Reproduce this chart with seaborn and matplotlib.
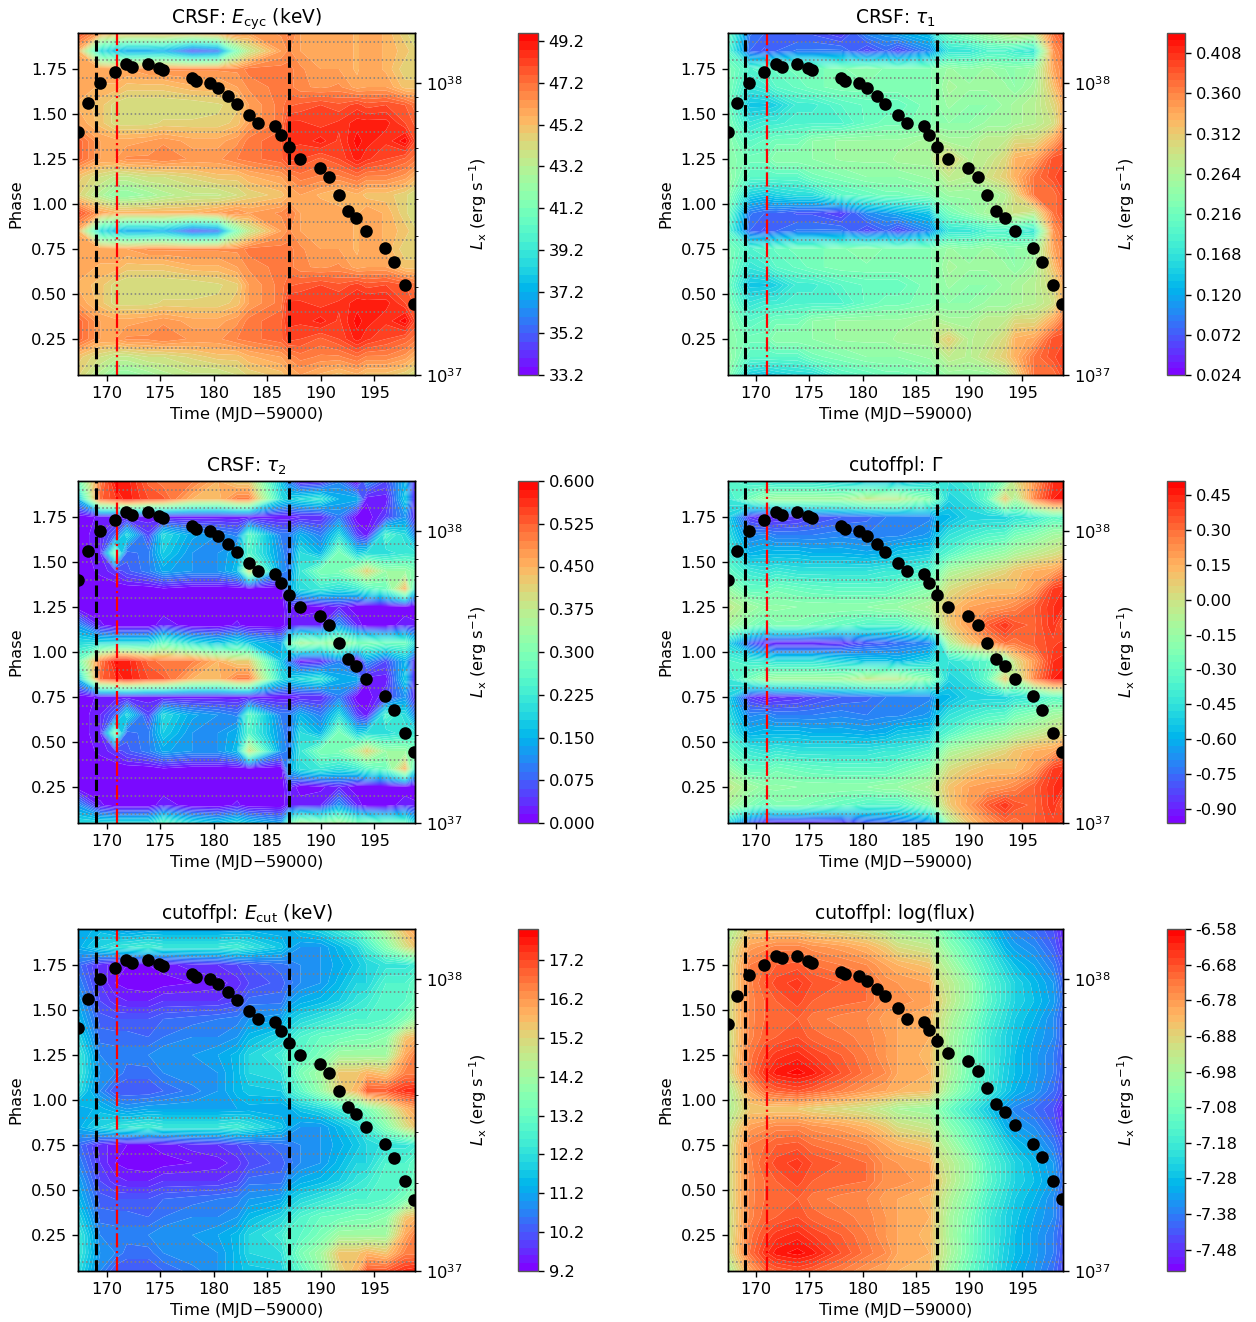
import numpy as np
import seaborn as sns
import matplotlib
matplotlib.use('Agg')
import matplotlib.pyplot as plt
from matplotlib.ticker import LogLocator, NullFormatter

# observation times and luminosity of the outburst
obs_time = [167.33, 168.26, 169.37, 170.74, 171.85, 172.41, 173.85, 174.89, 175.30, 177.96, 178.37, 179.67,
            180.41, 181.33, 182.15, 183.30, 184.15, 185.74, 186.26, 187.00, 188.04, 189.93, 190.81, 191.67,
            192.52, 193.33, 194.26, 196.04, 196.81, 197.89, 198.74]
log_lx = [37.833, 37.932, 38.001, 38.039, 38.065, 38.057, 38.066, 38.053, 38.045, 38.017, 38.008, 37.999,
          37.984, 37.957, 37.929, 37.892, 37.862, 37.852, 37.822, 37.782, 37.740, 37.711, 37.680, 37.618,
          37.562, 37.538, 37.494, 37.435, 37.388, 37.309, 37.245]
log_lx_flux = [37.846, 37.943, 38.014, 38.050, 38.078, 38.071, 38.078, 38.064, 38.056, 38.025, 38.017, 38.010,
               37.993, 37.967, 37.941, 37.902, 37.865, 37.853, 37.827, 37.789, 37.747, 37.719, 37.686, 37.627,
               37.571, 37.545, 37.502, 37.435, 37.390, 37.309, 37.246]

# grid of the phase-resolved maps
grid_time = [167.33, 169.4, 170.8, 171.9, 173.9, 175.3, 178.0, 180.4, 182.2, 183.3,
             186.3, 187.0, 188.1, 190.0, 191.7, 193.4, 194.3, 196.1, 197.9, 198.81]
phase_bins = [0.05, 0.15, 0.25, 0.35, 0.45, 0.55, 0.65, 0.75, 0.85, 0.95]

ecyc = [
    [44.5, 43, 42, 42, 42.5, 43, 43.5, 43.5, 44, 44.5, 45, 45.5, 46, 45.5, 45, 45.5, 45, 45, 44.5, 44],
    [45, 44, 43.5, 43.5, 44, 44, 44.5, 45, 45, 45.5, 46, 46.5, 47, 46.7, 46.7, 47.2, 46.7, 46.7, 46.2, 45.5],
    [47.5, 46, 46, 46.5, 46.5, 46.8, 46.3, 46.3, 46.8, 47, 47.5, 48.2, 48, 47.5, 48, 49, 48.5, 48, 47.5, 47],
    [47.5, 46, 45.8, 45.8, 46, 46.3, 45.8, 45.8, 46.3, 47, 47.5, 48.5, 48.5, 49, 48.3, 49.4, 49, 48.5, 49.5, 48],
    [46, 45, 44.2, 44.2, 44.2, 44.5, 44.5, 44.5, 45, 46, 47, 48.5, 48.5, 48.2, 48.5, 49, 49, 49, 48, 47.5],
    [45.5, 45, 44.2, 44, 44, 44, 44, 44.3, 44.7, 46, 47, 47.5, 47.7, 48, 47.7, 48.2, 47.8, 48, 47.6, 47],
    [46, 45.5, 45.5, 45, 45, 45, 45.5, 45.5, 46, 46.5, 47, 47, 46.5, 46.3, 46.5, 45.8, 46, 46, 45, 45],
    [46, 46, 46, 46, 46.5, 46.5, 46.5, 46.5, 46.5, 47, 47, 47, 46.5, 46, 46, 45.5, 46, 45.5, 44.5, 44.5],
    [45.5, 38.5, 37.5, 36.8, 36.8, 37, 34.8, 35.5, 41.5, 43.5, 46, 46.5, 46, 46, 46, 45.5, 46, 45.5, 45, 44.5],
    [48, 46, 45.5, 45.5, 45.5, 45.5, 45.5, 46, 46.5, 46, 46.5, 47, 46, 46, 46, 45.5, 46, 45.5, 44.5, 44],
]
tau1 = [
    [0.24, 0.15, 0.14, 0.15, 0.16, 0.16, 0.2, 0.21, 0.22, 0.22, 0.23, 0.24, 0.25, 0.25, 0.25, 0.27, 0.30, 0.37, 0.37, 0.39],
    [0.25, 0.2, 0.2, 0.2, 0.2, 0.22, 0.23, 0.24, 0.24, 0.24, 0.25, 0.26, 0.28, 0.27, 0.29, 0.31, 0.33, 0.37, 0.39, 0.40],
    [0.24, 0.22, 0.22, 0.24, 0.24, 0.24, 0.25, 0.25, 0.25, 0.26, 0.26, 0.29, 0.31, 0.27, 0.28, 0.30, 0.33, 0.34, 0.39, 0.39],
    [0.24, 0.2, 0.21, 0.22, 0.22, 0.24, 0.25, 0.25, 0.25, 0.25, 0.26, 0.27, 0.26, 0.26, 0.28, 0.28, 0.30, 0.30, 0.34, 0.37],
    [0.23, 0.17, 0.18, 0.18, 0.19, 0.19, 0.19, 0.21, 0.22, 0.22, 0.23, 0.24, 0.24, 0.24, 0.25, 0.25, 0.26, 0.27, 0.29, 0.33],
    [0.22, 0.14, 0.14, 0.15, 0.18, 0.18, 0.2, 0.21, 0.21, 0.21, 0.23, 0.24, 0.25, 0.24, 0.24, 0.25, 0.26, 0.27, 0.3, 0.33],
    [0.23, 0.17, 0.18, 0.2, 0.21, 0.22, 0.23, 0.23, 0.23, 0.23, 0.23, 0.24, 0.26, 0.25, 0.25, 0.25, 0.24, 0.26, 0.32, 0.36],
    [0.23, 0.19, 0.2, 0.21, 0.22, 0.22, 0.23, 0.24, 0.23, 0.23, 0.23, 0.24, 0.25, 0.24, 0.25, 0.24, 0.24, 0.25, 0.34, 0.36],
    [0.2, 0.08, 0.07, 0.08, 0.09, 0.09, 0.09, 0.06, 0.08, 0.06, 0.1, 0.13, 0.17, 0.17, 0.19, 0.19, 0.18, 0.17, 0.35, 0.37],
    [0.22, 0.09, 0.08, 0.08, 0.07, 0.07, 0.055, 0.1, 0.11, 0.12, 0.14, 0.19, 0.22, 0.24, 0.26, 0.28, 0.29, 0.28, 0.37, 0.39],
]
tau2 = [
    [0.2, 0.2, 0.2, 0.2, 0.2, 0.27, 0.2, 0.17, 0.2, 0.17, 0.13, 0.28, 0.35, 0.32, 0.35, 0.3, 0.3, 0.28, 0.28, 0.2],
    [0.12, 0.02, 0, 0, 0, 0.03, 0, 0, 0.02, 0, 0, 0.03, 0.03, 0.03, 0.12, 0.03, 0, 0, 0.03, 0.02],
    [0, 0, 0, 0, 0, 0, 0, 0, 0, 0, 0, 0.04, 0, 0.01, 0.03, 0, 0, 0, 0, 0],
    [0, 0, 0, 0, 0, 0.01, 0, 0, 0, 0, 0, 0.14, 0.2, 0.22, 0.2, 0.22, 0.25, 0.28, 0.45, 0.22],
    [0, 0.02, 0.04, 0.07, 0.1, 0.14, 0.12, 0.12, 0.16, 0.4, 0.12, 0.1, 0.22, 0.3, 0.3, 0.36, 0.42, 0.33, 0.33, 0.3],
    [0, 0.03, 0.3, 0.08, 0.1, 0.18, 0.12, 0.12, 0.15, 0.25, 0.12, 0.08, 0.2, 0.15, 0.3, 0.18, 0.2, 0.2, 0.22, 0.22],
    [0, 0.03, 0.08, 0.2, 0.05, 0.2, 0.14, 0.12, 0.1, 0.27, 0.1, 0.1, 0.15, 0.1, 0.2, 0.05, 0.02, 0.25, 0.2, 0.1],
    [0, 0.02, 0.02, 0.02, 0.02, 0.02, 0.02, 0.02, 0.02, 0.02, 0.02, 0.02, 0.03, 0.03, 0.1, 0, 0, 0.05, 0.12, 0.03],
    [0.15, 0.52, 0.55, 0.58, 0.54, 0.53, 0.45, 0.44, 0.5, 0.5, 0.2, 0.18, 0.2, 0.22, 0.15, 0.15, 0.02, 0.02, 0.18, 0.03],
    [0.28, 0.5, 0.58, 0.58, 0.52, 0.5, 0.5, 0.45, 0.42, 0.42, 0.17, 0.1, 0.02, 0.03, 0.1, 0, 0.12, 0.06, 0.15, 0.03],
]
gamma = [
    [-0.5, -0.78, -0.88, -0.9, -0.9, -0.9, -0.88, -0.8, -0.78, -0.75, -0.7, -0.55, -0.1, 0.1, 0.2, 0.3, 0.28, 0.33, 0.38, 0.4],
    [-0.1, -0.22, -0.28, -0.22, -0.22, -0.25, -0.3, -0.35, -0.35, -0.35, -0.2, -0.08, 0.08, 0.2, 0.33, 0.42, 0.35, 0.32, 0.42, 0.33],
    [-0.03, -0.12, -0.17, -0.17, -0.18, -0.18, -0.18, -0.18, -0.15, -0.15, -0.08, 0.0, 0.1, 0.18, 0.2, 0.22, 0.25, 0.33, 0.42, 0.42],
    [-0.15, -0.3, -0.3, -0.25, -0.28, -0.3, -0.32, -0.32, -0.32, -0.28, -0.2, -0.1, 0.02, 0.08, 0.12, 0.12, 0.12, 0.2, 0.4, 0.42],
    [-0.3, -0.42, -0.45, -0.42, -0.45, -0.45, -0.45, -0.45, -0.42, -0.42, -0.35, -0.25, -0.1, -0.05, 0.0, 0.05, 0.1, 0.15, 0.18, 0.25],
    [-0.4, -0.6, -0.58, -0.58, -0.58, -0.6, -0.6, -0.62, -0.6, -0.55, -0.52, -0.4, -0.35, -0.25, -0.2, -0.15, -0.1, -0.05, 0.0, 0.03],
    [-0.45, -0.7, -0.68, -0.72, -0.72, -0.72, -0.7, -0.72, -0.7, -0.7, -0.65, -0.55, -0.45, -0.4, -0.35, -0.33, -0.25, -0.2, -0.12, -0.1],
    [-0.5, -0.85, -0.92, -0.88, -0.86, -0.82, -0.78, -0.76, -0.72, -0.72, -0.7, -0.6, -0.58, -0.5, -0.5, -0.5, -0.45, -0.42, -0.32, -0.35],
    [-0.42, -0.25, -0.15, -0.12, -0.12, -0.12, -0.12, -0.03, -0.05, -0.05, -0.2, -0.3, -0.5, -0.45, -0.3, 0.1, -0.1, 0.25, 0.45, 0.48],
    [-0.35, -0.4, -0.42, -0.45, -0.45, -0.45, -0.5, -0.55, -0.55, -0.58, -0.5, -0.42, -0.45, -0.4, -0.33, -0.2, 0.02, 0.2, 0.42, 0.43],
]
ecut = [
    [12.2, 10.8, 10.2, 10.2, 10.2, 10.4, 10.7, 11, 11.5, 11.7, 11.8, 12.5, 13, 14, 15.2, 15.8, 17, 17, 17.5, 17.6],
    [12.5, 11, 10.8, 10.5, 10.5, 10.8, 11, 11, 11.5, 12, 12.2, 12.8, 13.5, 14.2, 15.5, 15.5, 15.8, 15.5, 16.5, 16.5],
    [12.5, 10.8, 10.7, 10.7, 10.8, 11, 11, 11.2, 11.5, 12, 12.5, 13, 13, 13.5, 14.2, 14.2, 14.2, 14.2, 16, 16.5],
    [12, 10.5, 10.5, 10.5, 10.4, 10.6, 10.8, 10.8, 11, 11.5, 12, 12.3, 12.8, 13.2, 13.3, 13.5, 13.5, 13.8, 15.5, 15.7],
    [11.5, 10.3, 10.2, 10.2, 10.2, 10.4, 10.5, 10.6, 10.7, 11, 11.2, 11.7, 12, 12.3, 12.6, 12.8, 12.8, 13, 13.5, 14],
    [11.2, 10, 9.7, 9.6, 9.6, 9.8, 9.8, 9.8, 10, 10.5, 10.5, 11, 11.3, 11.5, 11.8, 12.3, 12.5, 13, 13, 13.3],
    [10.8, 9.8, 9.4, 9.3, 9.2, 9.3, 9.4, 9.5, 9.7, 10, 10.3, 10.5, 10.8, 11, 11.5, 12, 12, 12.8, 12.8, 13.2],
    [10.5, 9.7, 9.5, 9.4, 9.4, 9.5, 9.7, 9.8, 10, 10.2, 10.5, 10.6, 10.8, 11, 11.3, 11.7, 12, 12.3, 12.3, 12.5],
    [11.3, 12, 12.3, 12.4, 12.6, 12.4, 12.4, 12.4, 12.6, 12.3, 11.7, 11.3, 11, 11, 11.5, 12, 12.6, 13.7, 15, 15.5],
    [11.2, 11.5, 11.2, 11, 11.2, 11.2, 11.2, 11.2, 11.2, 11.3, 11.2, 11.3, 11.7, 12, 12.5, 13, 13.5, 14.5, 15.7, 16],
]
logflux = [
    [-6.98, -6.80, -6.72, -6.70, -6.68, -6.70, -6.74, -6.78, -6.80, -6.82, -6.84, -6.92, -7.00, -7.10, -7.18, -7.26, -7.30, -7.34, -7.40, -7.45],
    [-6.92, -6.72, -6.65, -6.61, -6.59, -6.61, -6.68, -6.73, -6.76, -6.8, -6.82, -6.9, -6.97, -7.08, -7.17, -7.25, -7.28, -7.33, -7.38, -7.44],
    [-6.93, -6.73, -6.68, -6.65, -6.63, -6.66, -6.7, -6.74, -6.78, -6.8, -6.83, -6.9, -6.98, -7.08, -7.17, -7.24, -7.28, -7.33, -7.38, -7.43],
    [-6.93, -6.75, -6.71, -6.70, -6.68, -6.71, -6.73, -6.75, -6.78, -6.8, -6.82, -6.9, -6.98, -7.07, -7.17, -7.24, -7.27, -7.32, -7.36, -7.42],
    [-6.92, -6.75, -6.72, -6.71, -6.70, -6.73, -6.75, -6.76, -6.79, -6.8, -6.83, -6.9, -6.96, -7.05, -7.15, -7.22, -7.26, -7.3, -7.36, -7.42],
    [-6.92, -6.75, -6.72, -6.70, -6.67, -6.70, -6.71, -6.72, -6.77, -6.77, -6.79, -6.87, -6.93, -7.02, -7.12, -7.2, -7.24, -7.28, -7.33, -7.4],
    [-6.92, -6.75, -6.70, -6.67, -6.65, -6.68, -6.70, -6.72, -6.77, -6.78, -6.8, -6.9, -6.94, -7.02, -7.13, -7.2, -7.24, -7.29, -7.34, -7.42],
    [-6.93, -6.74, -6.72, -6.7, -6.69, -6.72, -6.74, -6.76, -6.8, -6.82, -6.85, -6.94, -6.98, -7.08, -7.16, -7.24, -7.28, -7.32, -7.38, -7.44],
    [-6.94, -6.79, -6.77, -6.75, -6.75, -6.77, -6.79, -6.82, -6.86, -6.9, -6.93, -6.98, -7.04, -7.12, -7.2, -7.3, -7.33, -7.36, -7.42, -7.48],
    [-6.98, -6.86, -6.86, -6.86, -6.86, -6.88, -6.9, -6.92, -6.95, -6.98, -7.0, -7.04, -7.1, -7.18, -7.26, -7.34, -7.37, -7.40, -7.44, -7.50],
]

titles = [r'CRSF: $E_{\rm cyc}$ (keV)', r'CRSF: $\tau_1$', r'CRSF: $\tau_2$', r'cutoffpl: $\Gamma$',
          r'cutoffpl: $E_{\rm cut}$ (keV)', 'cutoffpl: log(flux)']
maps = [ecyc, tau1, tau2, gamma, ecut, logflux]
# start, stop and number of bands of each colour scale, and colourbar tick labels
scales = [(33.2, 49.6, 41), (0.024, 0.432, 51), (0.0, 0.6, 40), (-0.96, 0.51, 49), (9.2, 18.0, 44), (-7.54, -6.58, 48)]
cbar_ticks = [
    [33.2, 35.2, 37.2, 39.2, 41.2, 43.2, 45.2, 47.2, 49.2],
    [0.024, 0.072, 0.120, 0.168, 0.216, 0.264, 0.312, 0.360, 0.408],
    [0.0, 0.075, 0.150, 0.225, 0.300, 0.375, 0.450, 0.525, 0.600],
    [-0.90, -0.75, -0.60, -0.45, -0.30, -0.15, 0.00, 0.15, 0.30, 0.45],
    [9.2, 10.2, 11.2, 12.2, 13.2, 14.2, 15.2, 16.2, 17.2],
    [-7.48, -7.38, -7.28, -7.18, -7.08, -6.98, -6.88, -6.78, -6.68, -6.58],
]
cbar_fmt = ['%.1f', '%.3f', '%.3f', '%.2f', '%.1f', '%.2f']

W, H = 1256, 1322
col_left = [78, 727.5]
col_right = [415, 1063]
cbar_left = [518, 1167]
cbar_width = [20, 18]
row_top = [33, 481, 929]
row_bottom = [375, 823, 1271]

plt.rcParams['axes.linewidth'] = 1.0
plt.rcParams['xtick.major.size'] = 4.2
plt.rcParams['ytick.major.size'] = 4.2
plt.rcParams['ytick.minor.size'] = 2.4
plt.rcParams['xtick.major.width'] = 1.0
plt.rcParams['ytick.major.width'] = 1.0

rainbow = sns.color_palette('rainbow', as_cmap=True)
fig = plt.figure(figsize=(W / 100, H / 100), dpi=100)


def box(x0, x1, y0, y1):
    return [x0 / W, 1 - y1 / H, (x1 - x0) / W, (y1 - y0) / H]


for i in range(6):
    r, c = i // 2, i % 2
    ax = fig.add_axes(box(col_left[c], col_right[c], row_top[r], row_bottom[r]))
    cax = fig.add_axes(box(cbar_left[c], cbar_left[c] + cbar_width[c], row_top[r], row_bottom[r]))

    # the maps are plotted over two pulse cycles
    z = np.vstack([maps[i], maps[i]])
    phase = np.concatenate([phase_bins, np.array(phase_bins) + 1])
    lo, hi, n = scales[i]
    levels = np.linspace(lo, hi, n + 1)
    cf = ax.contourf(grid_time, phase, z, levels=levels, cmap=rainbow, antialiased=True)
    ax.set_xlim(grid_time[0], grid_time[-1])
    ax.set_ylim(0.05, 1.95)
    ax.set_xticks([170, 175, 180, 185, 190, 195])
    ax.set_yticks([0.25, 0.5, 0.75, 1.0, 1.25, 1.5, 1.75])
    ax.tick_params(labelsize=11.7)
    ax.set_xlabel(r'Time (MJD$-$59000)', fontsize=11.7, labelpad=3)
    ax.set_ylabel('Phase', fontsize=11.7, labelpad=5.5)
    ax.set_title(titles[i], fontsize=13.4, pad=7)

    for p in np.arange(1, 20) / 10:
        ax.axhline(p, color='gray', ls=':', lw=1.1)
    ax.axvline(169, color='k', ls='--', lw=2.2)
    ax.axvline(187, color='k', ls='--', lw=2.2)
    ax.axvline(171, color='r', ls='-.', lw=1.6)

    ax2 = ax.twinx()
    lx = log_lx_flux if i == 5 else log_lx
    sns.scatterplot(x=obs_time, y=10 ** np.array(lx), ax=ax2, color='k', s=82, linewidth=0, legend=False)
    ax2.set_yscale('log')
    ax2.set_ylim(1e37, 10 ** 38.172)
    ax2.yaxis.set_major_locator(LogLocator(base=10))
    ax2.yaxis.set_minor_formatter(NullFormatter())
    ax2.tick_params(labelsize=11.7)
    ax2.set_ylabel(r'$L_{\rm x}$ (erg s$^{-1}$)', fontsize=11.7, labelpad=4)

    cb = fig.colorbar(cf, cax=cax, ticks=cbar_ticks[i], format=cbar_fmt[i])
    cb.ax.tick_params(labelsize=11.7)
    cb.outline.set_edgecolor('#555555')

fig.savefig('out.png', dpi=100)
